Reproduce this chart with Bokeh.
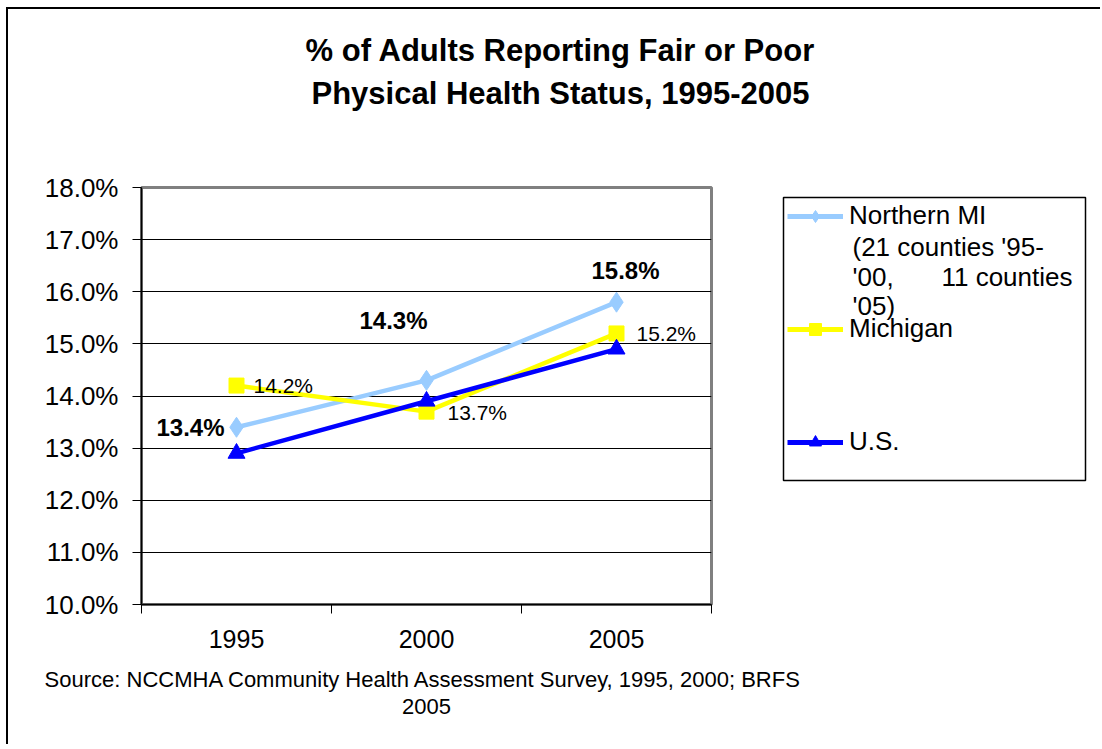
from bokeh.plotting import figure
from bokeh.layouts import column, row
from bokeh.models import (Range1d, FixedTicker, LinearAxis, Legend, LegendItem, Label,
                          LabelSet, ColumnDataSource, Grid, BoxAnnotation)
from bokeh.core.properties import value
from bokeh.embed import file_html
from bokeh.resources import INLINE

# ---------------- data ----------------
years = ["1995", "2000", "2005"]
northern_mi = [13.4, 14.3, 15.8]
michigan = [14.2, 13.7, 15.2]
us = [12.9, 13.9, 14.9]
y_ticks = [10, 11, 12, 13, 14, 15, 16, 17, 18]
y_tick_labels = ["10.0%", "11.0%", "12.0%", "13.0%", "14.0%", "15.0%", "16.0%", "17.0%", "18.0%"]
series_names = ["Northern MI", "Michigan", "U.S."]
northern_note = ["(21 counties '95-", "'00,", "11 counties", "'05)"]
title_lines = ["% of Adults Reporting Fair or Poor", "Physical Health Status, 1995-2005"]
source_lines = ["Source: NCCMHA Community Health Assessment Survey,  1995, 2000; BRFS", "2005"]

# ---------------- style ----------------
FONT = "Liberation Sans"
C_NMI = "#99CCFF"
C_MI = "#FFFF00"
C_US = "#0000FF"
nmi_dx = [-46, -33, 9]
nmi_dy = [0, 60, 32]
mi_dx = [17, 21, 20]
mi_dy = [0, -1, 0]

x = list(range(len(years)))


def text_panel(w, h, top=0, bottom=0):
    f = figure(width=w, height=h, x_range=Range1d(0, w), y_range=Range1d(0, h - top - bottom),
               title=None, output_backend="svg", toolbar_location=None,
               x_axis_type=None, y_axis_type=None,
               min_border_left=0, min_border_right=0, min_border_top=top, min_border_bottom=bottom)
    f.outline_line_color = None
    return f


def put(f, text, x0, y0, size, style="normal", align="center"):
    f.add_layout(Label(x=x0, y=y0, text=text, text_font=FONT, text_font_size=size,
                       text_font_style=style, text_align=align, text_baseline="middle",
                       text_color="black"))


# ---------------- title ----------------
top = text_panel(1092, 160)
put(top, title_lines[0], 552, 119, "31px", "bold")
put(top, title_lines[1], 552, 76, "31px", "bold")

# ---------------- main chart ----------------
p = figure(width=770, height=490, x_range=Range1d(-0.5, len(years) - 0.5),
           y_range=Range1d(y_ticks[0], y_ticks[-1]), title=None,
           output_backend="svg", toolbar_location=None,
           x_axis_type=None, y_axis_type=None,
           min_border_left=133, min_border_right=67, min_border_top=18, min_border_bottom=55)
p.background_fill_color = "white"
p.border_fill_color = "white"
p.outline_line_color = "#808080"
p.outline_line_width = 3

yaxis = LinearAxis(ticker=FixedTicker(ticks=y_ticks, minor_ticks=[]),
                   major_label_overrides={t: l for t, l in zip(y_ticks, y_tick_labels)})
yaxis.axis_line_color = "black"
yaxis.axis_line_width = 1.5
yaxis.major_tick_line_color = "black"
yaxis.major_tick_out = 9
yaxis.major_tick_in = 0
yaxis.major_label_standoff = 14
yaxis.major_label_text_font = FONT
yaxis.major_label_text_font_size = "26px"
yaxis.major_label_text_color = "black"
p.add_layout(yaxis, "left")

xaxis = LinearAxis(ticker=FixedTicker(ticks=x, minor_ticks=[i - 0.5 for i in range(len(years) + 1)]),
                   major_label_overrides={i: y for i, y in zip(x, years)})
xaxis.axis_line_color = "black"
xaxis.axis_line_width = 1.5
xaxis.major_tick_line_color = None
xaxis.major_tick_out = 0
xaxis.major_tick_in = 0
xaxis.minor_tick_line_color = "black"
xaxis.minor_tick_out = 9
xaxis.minor_tick_in = 0
xaxis.major_label_standoff = 16
xaxis.major_label_text_font = FONT
xaxis.major_label_text_font_size = "25px"
xaxis.major_label_text_color = "black"
p.add_layout(xaxis, "below")

p.add_layout(Grid(dimension=1, ticker=yaxis.ticker, grid_line_color="black", grid_line_width=1))

series = [(northern_mi, C_NMI, "diamond", 20), (michigan, C_MI, "square", 15), (us, C_US, "triangle", 17)]
for vals, col, mk, sz in series:
    p.line(x, vals, line_color=col, line_width=4.5)
    p.scatter(x, vals, marker=mk, size=sz, fill_color=col, line_color=col)

src_nmi = ColumnDataSource(dict(x=x, y=northern_mi, text=[f"{v:.1f}%" for v in northern_mi],
                                dx=nmi_dx, dy=nmi_dy))
p.add_layout(LabelSet(x="x", y="y", text="text", x_offset="dx", y_offset="dy", source=src_nmi,
                      text_font=value(FONT), text_font_size="24px", text_font_style="bold",
                      text_align="center", text_baseline="middle", text_color="black"))
src_mi = ColumnDataSource(dict(x=x, y=michigan, text=[f"{v:.1f}%" for v in michigan],
                               dx=mi_dx, dy=mi_dy))
p.add_layout(LabelSet(x="x", y="y", text="text", x_offset="dx", y_offset="dy", source=src_mi,
                      text_font=value(FONT), text_font_size="21px",
                      text_align="left", text_baseline="middle", text_color="black"))

# ---------------- legend panel (frame aligned with the chart frame) ----------------
lg = text_panel(322, 490, top=18, bottom=55)
lg.add_layout(BoxAnnotation(left=5, right=307, bottom=124, top=407, fill_color="white", fill_alpha=1.0,
                            line_color="black", line_alpha=1.0, line_width=1.5))
items = []
for name, (vals, col, mk, sz) in zip(series_names, series):
    r_line = lg.line(x, vals, line_color=col, line_width=5, visible=False)
    r_mk = lg.scatter(x, vals, marker=mk, size=sz, fill_color=col, line_color=col, visible=False)
    items.append(LegendItem(label=name, renderers=[r_line, r_mk]))
legend = Legend(items=items, location=(9, 147), glyph_width=56, glyph_height=30, label_height=30,
                label_width=228, label_standoff=6, padding=3, spacing=82, margin=0,
                click_policy="none", inactive_fill_alpha=0.0,
                border_line_color=None, background_fill_alpha=0.0,
                label_text_font=FONT, label_text_font_size="26px", label_text_color="black")
lg.add_layout(legend)
put(lg, northern_note[0], 74, 358, "26px", align="left")
put(lg, northern_note[1], 74, 328, "26px", align="left")
put(lg, northern_note[2], 294, 328, "26px", align="right")
put(lg, northern_note[3], 74, 299, "26px", align="left")

# ---------------- source ----------------
bottom = text_panel(1092, 85)
put(bottom, source_lines[0], 418, 65, "22px")
put(bottom, source_lines[1], 418, 38, "22px")

layout = column(top, row(p, lg), bottom)
layout.styles = {"margin-left": "6px", "margin-top": "7px",
                 "border-left": "2px solid black", "border-top": "2px solid black"}

open("out.html", "w").write(file_html(layout, INLINE))
